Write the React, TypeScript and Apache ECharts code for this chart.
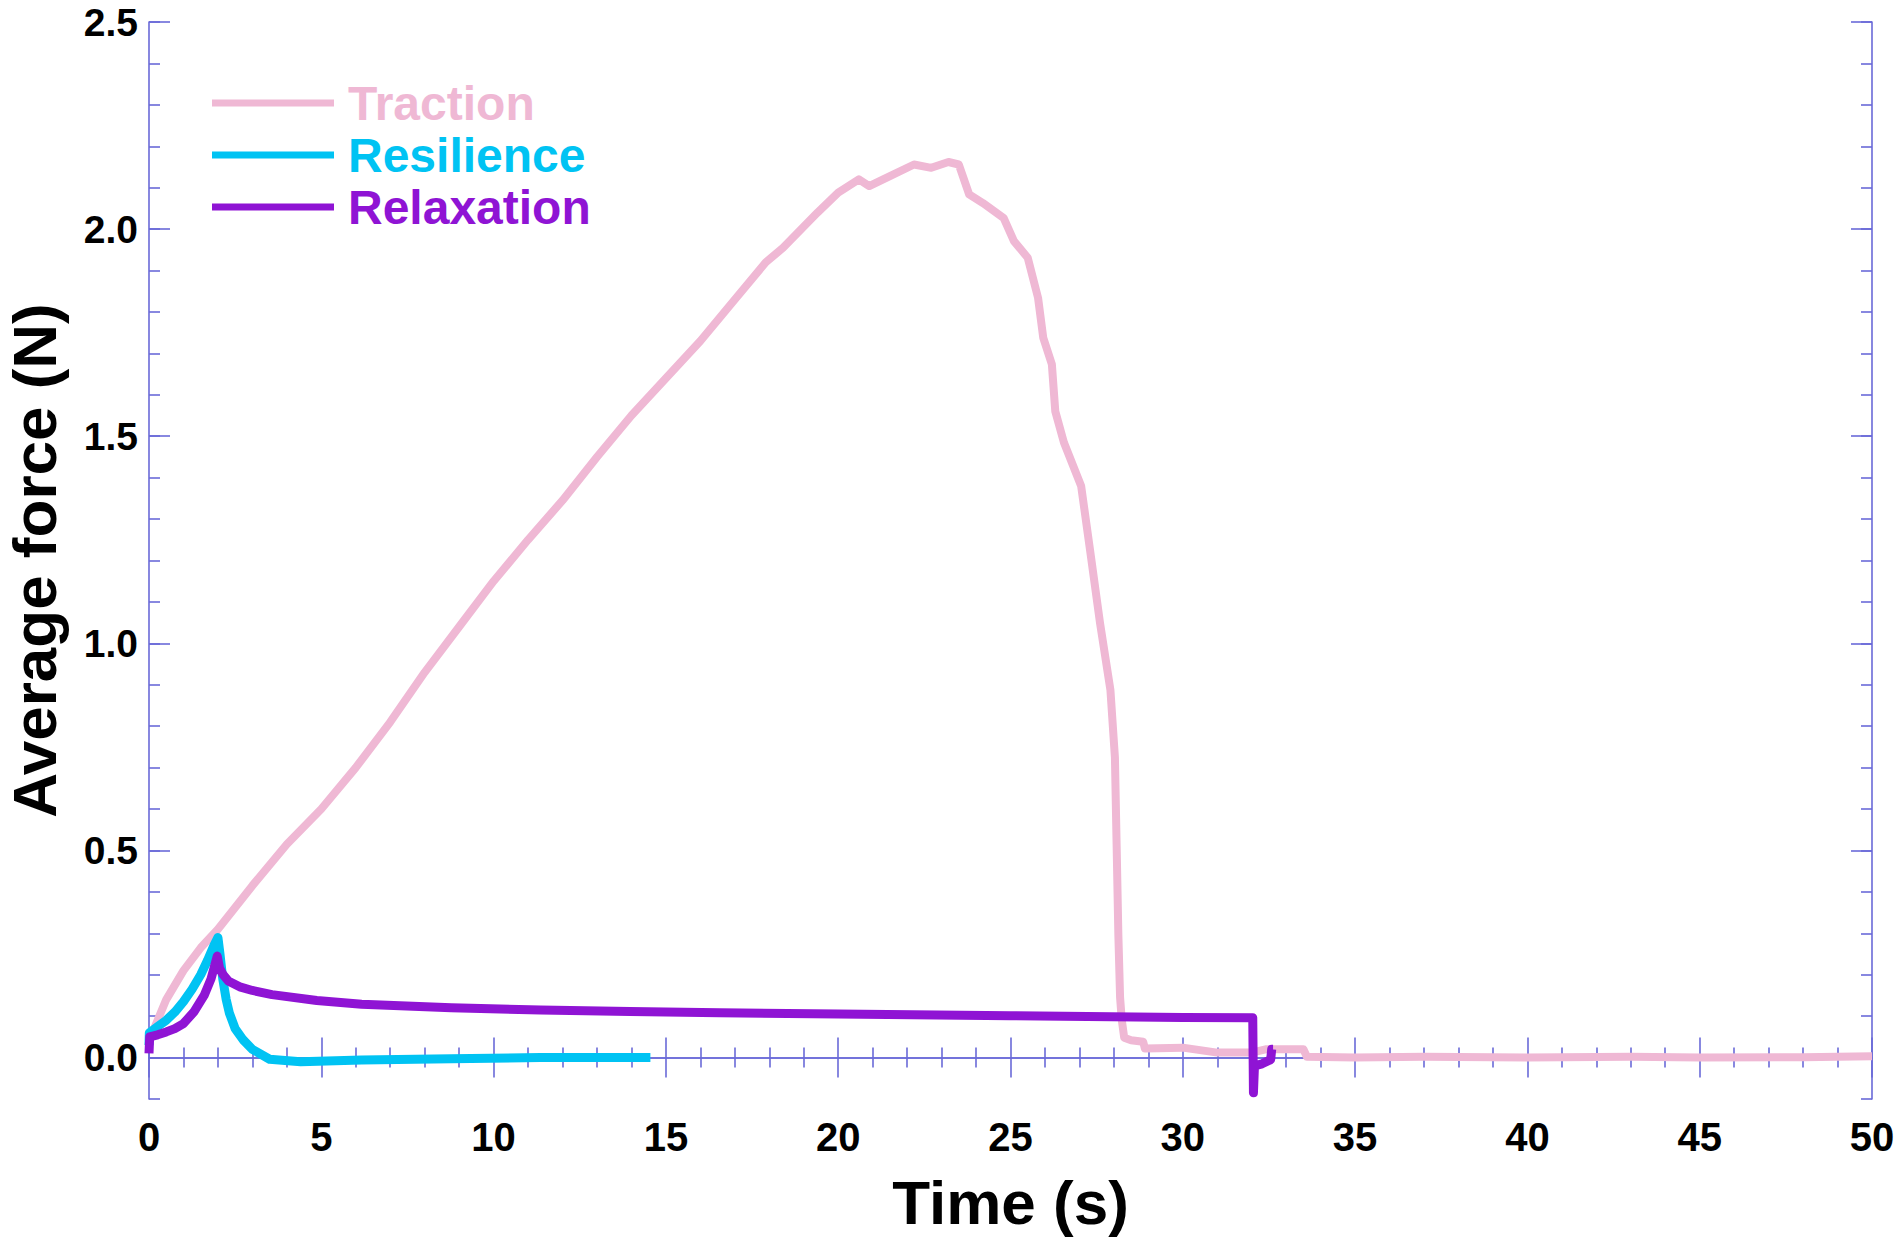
import React, { useEffect, useRef } from "react";
import * as echarts from "echarts";

// ---- data ----
const tractionT = [0, 0.25, 0.5, 1.0, 1.5, 2.0, 3.0, 4.0, 5.0, 6.0, 7.0, 8.0, 9.0, 10.0, 11.0, 12.0, 13.0, 14.0, 15.0, 16.0, 17.0, 17.9, 18.4, 19.4, 20.0, 20.6, 20.9, 21.5, 22.2, 22.7, 23.2, 23.5, 23.8, 24.2, 24.8, 25.1, 25.5, 25.8, 25.95, 26.2, 26.3, 26.55, 27.05, 27.3, 27.6, 27.9, 28.03, 28.08, 28.13, 28.18, 28.23, 28.3, 28.5, 28.85, 28.9, 30.0, 31.0, 32.0, 32.4, 33.5, 33.6, 35, 37, 40, 43, 45, 48, 50];
const tractionF = [0.04, 0.09, 0.14, 0.21, 0.265, 0.31, 0.415, 0.515, 0.6, 0.7, 0.81, 0.93, 1.04, 1.15, 1.25, 1.345, 1.45, 1.55, 1.64, 1.73, 1.83, 1.92, 1.955, 2.04, 2.088, 2.12, 2.104, 2.128, 2.156, 2.148, 2.162, 2.156, 2.084, 2.063, 2.027, 1.971, 1.931, 1.834, 1.738, 1.674, 1.56, 1.485, 1.38, 1.23, 1.048, 0.887, 0.725, 0.511, 0.296, 0.145, 0.09, 0.048, 0.042, 0.038, 0.022, 0.024, 0.012, 0.012, 0.02, 0.02, 0.002, 0.0, 0.002, 0.0, 0.002, 0.0, 0.001, 0.003];

const resilienceT = [0, 0.01, 0.25, 0.5, 0.75, 1.0, 1.25, 1.5, 1.7, 1.88, 2.0, 2.06, 2.14, 2.24, 2.33, 2.5, 2.73, 3.0, 3.5, 4.4, 6.17, 8.77, 11.36, 14.55];
const resilienceF = [0.03, 0.06, 0.075, 0.09, 0.11, 0.135, 0.165, 0.2, 0.235, 0.27, 0.29, 0.25, 0.19, 0.14, 0.108, 0.07, 0.043, 0.02, -0.004, -0.01, -0.006, -0.003, 0.0, 0.0];

const relaxationT = [0, 0.02, 0.25, 0.5, 0.75, 1.0, 1.3, 1.6, 1.8, 1.98, 2.05, 2.15, 2.3, 2.66, 3.0, 3.57, 4.87, 6.17, 8.77, 11.36, 13.96, 16.56, 20, 25, 30, 32.03, 32.05, 32.08, 32.3, 32.55, 32.58, 32.62];
const relaxationF = [0.01, 0.05, 0.055, 0.062, 0.07, 0.082, 0.11, 0.15, 0.19, 0.245, 0.215, 0.2, 0.185, 0.17, 0.162, 0.152, 0.138, 0.129, 0.12, 0.115, 0.111, 0.108, 0.105, 0.101, 0.097, 0.096, -0.085, -0.02, -0.015, -0.005, 0.02, 0.02];

const seriesNames = ["Traction", "Resilience", "Relaxation"];
const seriesColors = ["#efb8d4", "#00c3f3", "#8f14d4"];

const xTicksMajor = [0, 5, 10, 15, 20, 25, 30, 35, 40, 45, 50];
const yTicksMajor = [0, 0.5, 1.0, 1.5, 2.0, 2.5];

const frameColor = "#6a6ad8";
const font = "'Liberation Sans', Arial, Helvetica, sans-serif";

function pairs(t: number[], f: number[]) {
  return t.map((v, i) => [v, f[i]]);
}

export default function App() {
  const ref = useRef<HTMLDivElement>(null);
  useEffect(() => {
    document.body.style.margin = "0";
    if (!ref.current) return;
    const chart = echarts.init(ref.current, null, { renderer: "svg" });

    const lineStyle = { color: frameColor, width: 1.6 };
    const yBase = (pos: "left" | "right", major: boolean, labels: boolean) => ({
      type: "value",
      position: pos,
      min: -0.1,
      max: 2.5,
      ...(major ? {} : { interval: 0.1 }),
      axisLine: { show: major, lineStyle },
      axisTick: major
        ? { show: true, inside: true, length: 21, lineStyle, customValues: yTicksMajor }
        : { show: true, inside: true, length: 11, lineStyle },
      axisLabel: labels
        ? {
            show: true,
            customValues: yTicksMajor,
            formatter: (v: number) => v.toFixed(1),
            color: "#000",
            fontFamily: font,
            fontWeight: "bold",
            fontSize: 39,
            lineHeight: 36,
            margin: 11,
          }
        : { show: false },
      splitLine: { show: false },
      ...(labels
        ? {
            name: "Average force (N)",
            nameLocation: "middle",
            nameGap: 84,
            nameTextStyle: { color: "#000", fontFamily: font, fontWeight: "bold", fontSize: 62, lineHeight: 62 },
          }
        : {}),
    });
    const xBase = (pos: "bottom" | "top", labels: boolean) => ({
      type: "value",
      position: pos,
      min: 0,
      max: 50,
      interval: 5,
      axisLine: { show: true, lineStyle },
      axisTick: { show: true, inside: true, length: 20, lineStyle },
      minorTick: { show: true, splitNumber: 5, length: 10, lineStyle },
      axisLabel: labels
        ? {
            show: true,
            customValues: xTicksMajor,
            color: "#000",
            fontFamily: font,
            fontWeight: "bold",
            fontSize: 40,
            margin: 18,
          }
        : { show: false },
      splitLine: { show: false },
      minorSplitLine: { show: false },
      ...(labels
        ? {
            name: "Time (s)",
            nameLocation: "middle",
            nameGap: 72,
            nameTextStyle: { color: "#000", fontFamily: font, fontWeight: "bold", fontSize: 62 },
          }
        : {}),
    });

    const data = [
      pairs(tractionT, tractionF),
      pairs(resilienceT, resilienceF),
      pairs(relaxationT, relaxationF),
    ];
    const widths = [8, 9, 9];

    chart.setOption({
      animation: false,
      backgroundColor: "#ffffff",
      grid: { left: 149, top: 22, right: 28, bottom: 142, containLabel: false, outerBoundsMode: "none" },
      legend: {
        orient: "vertical",
        left: 212,
        top: 77,
        padding: 0,
        icon: "rect",
        itemWidth: 122,
        itemHeight: 7,
        itemGap: 0,
        selectedMode: false,
        textStyle: { fontFamily: font, fontWeight: "bold", fontSize: 48, lineHeight: 52, padding: [0, 0, 0, 9] },
        data: seriesNames.map((n, i) => ({ name: n, textStyle: { color: seriesColors[i] } })),
      },
      xAxis: [xBase("bottom", true), xBase("top", false)],
      yAxis: [
        yBase("left", true, true),
        yBase("left", false, false),
        yBase("right", true, false),
        yBase("right", false, false),
      ],
      series: seriesNames.map((n, i) => ({
        name: n,
        type: "line",
        xAxisIndex: 0,
        yAxisIndex: 0,
        data: data[i],
        showSymbol: false,
        symbol: "none",
        smooth: false,
        color: seriesColors[i],
        lineStyle: { color: seriesColors[i], width: widths[i], join: "round", cap: "butt" },
        z: 2 + i,
      })),
    });
    return () => chart.dispose();
  }, []);
  return <div ref={ref} style={{ width: 1900, height: 1241 }} />;
}
